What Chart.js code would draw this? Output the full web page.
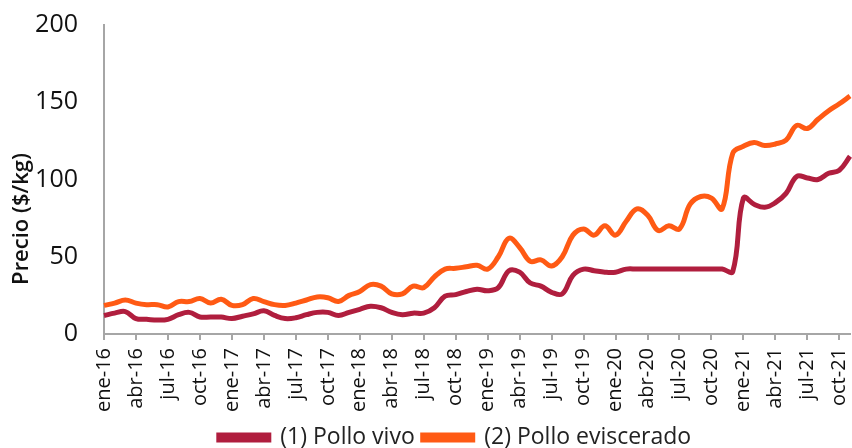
<!DOCTYPE html>
<html>
<head>
<meta charset="utf-8">
<script src="https://cdn.jsdelivr.net/npm/chart.js@4"></script>
<style>
  html, body { margin: 0; padding: 0; background: #fff; }
  #wrap { width: 852px; height: 448px; }
</style>
</head>
<body>
<div id="wrap"><canvas id="chart"></canvas></div>
<script>
// months ene-16 .. nov-21
const monthNames = ["ene", "feb", "mar", "abr", "may", "jun", "jul", "ago", "sep", "oct", "nov", "dic"];
const years = ["16", "17", "18", "19", "20", "21"];

const polloVivo = [
  12, 13.5, 14.5, 10, 9.5, 9, 9.5, 12.5, 14, 11, 11, 11,
  10, 11.5, 13, 15, 12, 10, 10.5, 12.5, 14, 14, 12, 14,
  16, 18, 17, 14, 12.5, 13.5, 13.5, 17, 24.5, 25.5, 27.5, 29,
  28, 30, 41, 40, 33, 31, 27, 26, 38, 42, 41, 40,
  40, 42, 42, 42, 42, 42, 42, 42, 42, 42, 42, 40.5,
  88, 84, 82, 85, 91, 102, 101, 100, 104, 106, 115
];

const polloEviscerado = [
  18.5, 20, 22, 20, 19, 19, 17.5, 21, 21, 23, 20, 22.5,
  18.5, 19, 23, 21, 19, 18.5, 20, 22, 24, 23.5, 21, 25,
  27.5, 32, 31, 26, 26, 31, 30, 37, 42, 42.5, 43.5, 44.5,
  42, 50, 62, 56, 47, 48, 44, 50, 64, 68, 64, 70,
  64, 73, 81, 77, 67, 70, 68, 84, 89, 88, 81, 117,
  121.5, 124, 122, 123, 125.5, 135, 133, 139, 144.5, 149, 154
];

let labels = [];
years.forEach(y => {
  monthNames.forEach(m => labels.push(m + "-" + y));
});
labels = labels.slice(0, polloVivo.length);

const FONT = "'Open Sans', sans-serif";
const AXIS_GRAY = "#a6a6a6";

// y axis title, drawn a bit lower than chart.js would center it
// and the legend nudged right so it sits under the plot like the original
const extras = {
  id: "extras",
  afterLayout(chart) {
    chart.legend.left += 30;
    chart.legend.right += 30;
  },
  afterDraw(chart) {
    const ctx = chart.ctx;
    ctx.save();
    ctx.translate(22, 219);
    ctx.rotate(-Math.PI / 2);
    ctx.textAlign = "center";
    ctx.textBaseline = "middle";
    ctx.fillStyle = "#111";
    ctx.font = "600 22px " + FONT;
    ctx.fillText("Precio ($/kg)", 0, 0);
    ctx.restore();
  }
};

const ctx = document.getElementById("chart").getContext("2d");

new Chart(ctx, {
  type: "line",
  data: {
    labels: labels,
    datasets: [
      {
        label: "(1) Pollo vivo",
        data: polloVivo,
        borderColor: "#b01e3e",
        backgroundColor: "#b01e3e",
        borderWidth: 5,
        pointRadius: 0,
        tension: 0.4
      },
      {
        label: "(2) Pollo eviscerado",
        data: polloEviscerado,
        borderColor: "#ff5a14",
        backgroundColor: "#ff5a14",
        borderWidth: 5,
        pointRadius: 0,
        tension: 0.4
      }
    ]
  },
  options: {
    responsive: true,
    maintainAspectRatio: false,
    animation: false,
    layout: { padding: { left: 0, right: 2, top: 25, bottom: -11 } },
    plugins: {
      tooltip: { enabled: false },
      legend: {
        position: "bottom",
        labels: {
          boxWidth: 50,
          boxHeight: 5,
          padding: 8,
          color: "#222",
          font: { family: FONT, size: 23 }
        }
      }
    },
    scales: {
      x: {
        grid: {
          display: true,
          drawOnChartArea: false,
          drawTicks: true,
          tickLength: 6,
          lineWidth: 2,
          color: c => (c.index % 3 === 0 ? AXIS_GRAY : "rgba(0,0,0,0)")
        },
        border: { display: true, color: AXIS_GRAY, width: 2 },
        ticks: {
          autoSkip: false,
          maxRotation: 90,
          minRotation: 90,
          padding: 8,
          color: "#111",
          font: { family: FONT, size: 20 },
          callback: function (val, i) {
            return i % 3 === 0 ? this.getLabelForValue(val) : "";
          }
        },
        afterFit: s => {
          s.height = 84;
          s.paddingLeft = 0;
          s.paddingRight = 0;
        }
      },
      y: {
        min: 0,
        max: 200,
        grid: { display: false, drawTicks: false },
        border: { display: true, color: AXIS_GRAY, width: 2 },
        ticks: {
          stepSize: 50,
          padding: 26,
          color: "#111",
          font: { family: FONT, size: 25 }
        },
        afterFit: s => {
          s.width = 104;
          s.paddingTop = 0;
          s.paddingBottom = 0;
        }
      }
    }
  },
  plugins: [extras]
});
</script>
</body>
</html>
